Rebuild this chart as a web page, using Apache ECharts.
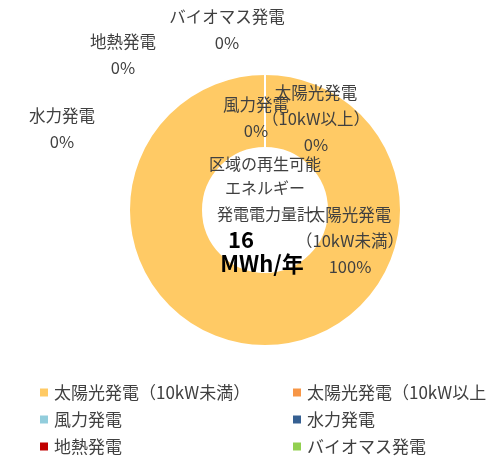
<!DOCTYPE html>
<html><head><meta charset="utf-8">
<script src="https://cdn.jsdelivr.net/npm/echarts@6/dist/echarts.min.js"></script>
<style>html,body{margin:0;padding:0;background:#fff}#c{width:487px;height:456px}</style>
</head><body><div id="c"></div>
<script>
const categories = ['太陽光発電（10kW未満）','太陽光発電（10kW以上）','風力発電','水力発電','地熱発電','バイオマス発電'];
const values = [16, 0, 0, 0, 0, 0];
const colors = ['#FFCA65','#F79646','#92CDDC','#366092','#C00000','#92D050'];
const centerLines = ['区域の再生可能','エネルギー','発電電力量計'];
const unitLabel = 'MWh/年';
const total = values.reduce((a,b)=>a+b,0);

// label anchor positions (layout only)
const labelPos = [[350,241],[316,119],[256,118],[62,129],[123,55],[227,30]];

const FONT = '"Noto Sans CJK JP", "Noto Sans", sans-serif';
const TXT = '#404040';

const legendBase = {orient:'vertical', top:384, height:80, padding:0, itemWidth:10, itemHeight:10, itemGap:10, icon:'rect',
  textStyle:{fontFamily:FONT, fontSize:17, color:TXT, lineHeight:16}};

const chart = echarts.init(document.getElementById('c'), null, {renderer:'canvas'});
chart.setOption({
  animation:false,
  color: colors,
  textStyle:{fontFamily:FONT},
  legend:[
    Object.assign({}, legendBase, {data:[categories[0],categories[2],categories[4]], left:38}),
    Object.assign({}, legendBase, {data:[categories[1],categories[3],categories[5]], left:291})
  ],
  series:[{
    type:'pie',
    center:[265,210],
    radius:[62,136],
    startAngle:90,
    clockwise:true,
    avoidLabelOverlap:false,
    silent:true,
    itemStyle:{borderColor:'#fff', borderWidth:2},
    label:{
      show:true, position:'outside', fontFamily:FONT, fontSize:16.5, color:TXT,
      lineHeight:26, align:'center',
      formatter:p => p.name.replace('（','\n（') + '\n' + Math.round(p.percent) + '%'
    },
    labelLine:{show:false},
    labelLayout: p => ({x:labelPos[p.dataIndex][0], y:labelPos[p.dataIndex][1], align:'center', verticalAlign:'middle'}),
    data: categories.map((n,i)=>({name:n, value:values[i]}))
  }],
  graphic:[
    ...centerLines.map((t,i)=>({type:'text', z:100,
      style:{text:t, x:265, y:[164,188,214][i], fill:TXT, font:'16px '+FONT, textAlign:'center', textVerticalAlign:'middle'}})),
    {type:'text', z:100, style:{text:String(total), x:241, y:240, fill:'#000', font:'bold 22px '+FONT, textAlign:'center', textVerticalAlign:'middle'}},
    {type:'text', z:100, style:{text:unitLabel, x:262, y:264, fill:'#000', font:'bold 22px '+FONT, textAlign:'center', textVerticalAlign:'middle'}}
  ]
});
</script></body></html>
